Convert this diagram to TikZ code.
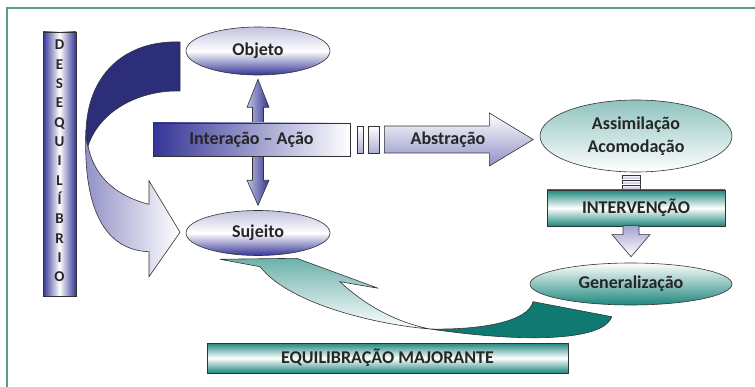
\documentclass[tikz,border=0pt]{standalone}
\usepackage{fontspec}
\setmainfont{Carlito}
\usetikzlibrary{shapes.geometric}
\definecolor{azul}{RGB}{52,52,150}
\definecolor{marinho}{RGB}{44,46,122}
\definecolor{verde}{RGB}{30,135,125}
\definecolor{verdeesc}{RGB}{16,122,114}
\definecolor{moldura}{RGB}{95,155,125}
\pgfdeclarelayer{fundo}
\pgfsetlayers{fundo,main}

\begin{document}
\begin{tikzpicture}[x=1pt,y=-1pt,
  every node/.style={align=center,font=\fontsize{18}{23}\selectfont\bfseries,text=black!85},
  oval/.style={draw=black!80,line width=.6pt,ellipse,inner sep=0pt},
  ovalazul/.style={oval,top color=azul!30!white,bottom color=azul,middle color=white},
  caixa/.style={draw=black!80,line width=.6pt,rectangle,inner sep=0pt},
  caixaverde/.style={caixa,top color=verde,bottom color=verde,middle color=white},
  traco/.style={caixa,top color=white,bottom color=azul!40!white},
  seta/.style={draw=black!80,line width=.6pt}]

  \useasboundingbox (0,0) rectangle (755,387);
  \draw[moldura,line width=1.2pt] (7,387) -- (7,8) -- (755,8);

  % Left column
  \node[caixa,left color=azul,right color=azul,middle color=white,
        minimum width=33,minimum height=264] (deseq) at (59.5,164) {};
  \node[font=\fontsize{15}{19.33}\selectfont\bfseries] (letras) at (59.5,161)
    {D\\E\\S\\E\\Q\\U\\I\\L\\Í\\B\\R\\I\\O};

  % Subject and object
  \node[ovalazul,minimum width=144,minimum height=48] (objeto) at (258,51) {Objeto};
  \node[ovalazul,minimum width=144,minimum height=45] (sujeito) at (258,233) {Sujeito};
  \node[caixa,left color=azul,right color=white,minimum width=197,minimum height=33]
    (acao) at (251.5,139.5) {Interação – Ação};
  \node[traco,minimum width=6,minimum height=27] (barA) at (360,139.5) {};
  \node[traco,minimum width=11,minimum height=27] (barB) at (373.5,139.5) {};

  % Right column
  \node[oval,top color=verde!50!white,bottom color=white,minimum width=192,minimum height=72]
    (assim) at (636,136) {Assimilação\\Acomodação};
  \foreach \k in {0,1,2}
    \node[traco,minimum width=18,minimum height=5] (faixa\k) at (631,177.5+5*\k) {};
  \node[caixaverde,minimum width=178,minimum height=36] (interv) at (636,208) {INTERVENÇÃO};
  \node[oval,top color=white,bottom color=verde,minimum width=202,minimum height=42]
    (gener) at (631,284) {Generalização};
  \node[caixaverde,minimum width=361,minimum height=30] (equil) at (387.5,358)
    {EQUILIBRAÇÃO MAJORANTE};

  % Straight block arrows
  \draw[seta,top color=white,bottom color=azul!55!white,shift={(barB.east)}]
    (5,-13.5) -- (110,-13.5) -- (110,-26.5) -- (154,0) -- (110,26.5) -- (110,13.5) -- (5,13.5) -- cycle;
  \node (abstr) at (448,140) {Abstração};
  \draw[seta,top color=azul!45!white,bottom color=white,shift={(gener.north)}]
    (-8,-37) -- (8,-37) -- (8,-28) -- (19,-28) -- (0,-6) -- (-19,-28) -- (-8,-28) -- cycle;

  \begin{pgfonlayer}{fundo}
    \draw[seta,left color=azul!30!white,right color=azul,shift={(objeto.south)}]
      (0,4) -- (11,32) -- (5.5,32) -- (5.5,105) -- (11,105) -- (0,130)
      -- (-11,105) -- (-5.5,105) -- (-5.5,32) -- (-11,32) -- cycle;
    % Curved arrow: desequilibrio
    \draw[seta,left color=azul!55!white,right color=white]
      (86,130) .. controls (83,200) and (100,250) .. (149,251.7) -- (149,276.7)
      -- (180,232.3) -- (149,180.7) -- (149,204.3)
      .. controls (120,197) and (95,180) .. (88,146) -- cycle;
    \draw[seta,fill=marinho]
      (180,42) .. controls (125,40) and (84,75) .. (86,140) -- (88,146)
      .. controls (100,110) and (140,90) .. (180,91) -- cycle;
    % Curved arrow: equilibracao
    \draw[seta,top color=verde!65!white,bottom color=white]
      (220,259.3) -- (296.7,258.3) -- (378.3,288.3) -- (340,281.7)
      .. controls (365,305) and (395,322) .. (430,329)
      .. controls (380,325) and (290,305) .. (260,266.7) -- cycle;
    \draw[seta,fill=verdeesc]
      (430,329) .. controls (480,330) and (528,322) .. (533,301.7) -- (611.7,316.7)
      .. controls (605,338) and (540,345) .. (430,329) -- cycle;
  \end{pgfonlayer}
\end{tikzpicture}
\end{document}
